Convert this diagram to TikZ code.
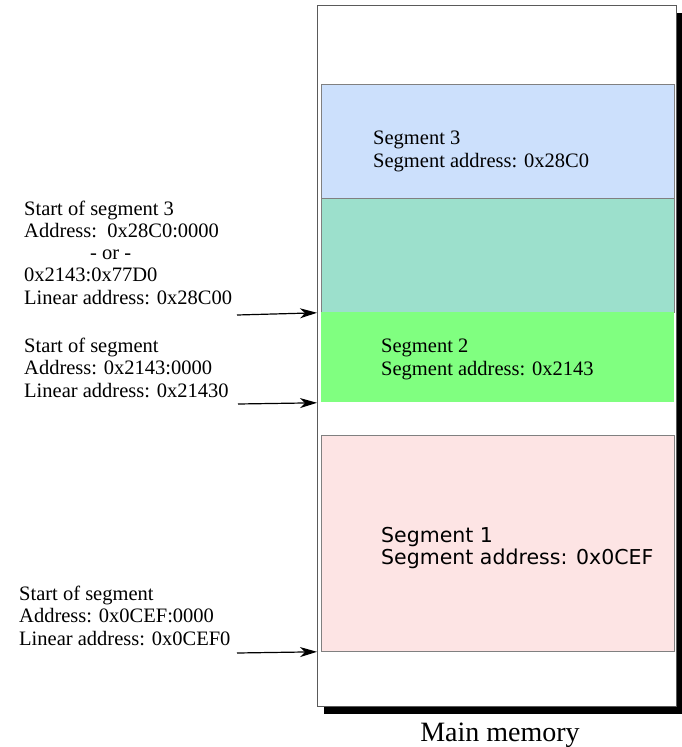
\documentclass[tikz,border=0pt]{standalone}
\usepackage{fontspec}
\setmainfont{Liberation Serif}
\newfontfamily\sansseg{DejaVu Sans}
\definecolor{segblue}{RGB}{204,224,252}
\definecolor{segteal}{RGB}{156,224,204}
\definecolor{seggreen}{RGB}{128,255,128}
\definecolor{segpink}{RGB}{253,228,228}
\definecolor{boxgray}{RGB}{90,90,90}
\usetikzlibrary{arrows.meta,positioning,shadows}

\tikzset{
  segbox/.style={draw=gray, line width=0.8pt, anchor=north west, inner sep=0pt, minimum width=353pt},
  addrtext/.style={anchor=base west, align=left, inner sep=0pt, font=\fontsize{20.5pt}{22.25pt}\selectfont},
  addrarrow/.style={-{Stealth[length=17pt,width=10pt,inset=5pt]}, line width=1.2pt}
}

\begin{document}
\begin{tikzpicture}[x=1pt,y=-1pt]
    \useasboundingbox (0,0) rectangle (682,747);

    % Main memory box
    \node[draw=boxgray, fill=white, line width=1pt, anchor=north west, inner sep=0pt,
          minimum width=359pt, minimum height=701pt,
          drop shadow={shadow xshift=6pt, shadow yshift=-7pt, opacity=1, fill=black}] (mem) at (317,5) {};
    \node[anchor=base, inner sep=0pt, font=\fontsize{28pt}{30pt}\selectfont] (memlabel) at (500,741) {Main memory};

    % Segments
    \node[segbox, fill=segblue, minimum height=114pt] (seg3) at (321,84) {};
    \node[segbox, fill=segteal, minimum height=114pt] (overlap) at (321,198) {};
    \node[segbox, draw=none, fill=seggreen, minimum height=90pt] (seg2) at (321,312) {};
    \node[segbox, fill=segpink, minimum height=216pt] (seg1) at (321,435) {};

    % (base = last line)
    \node[addrtext] (seg3text) at (373,167) {Segment 3\\Segment address: 0x28C0};
    \node[addrtext] (seg2text) at (381,375) {Segment 2\\Segment address: 0x2143};
    \node[addrtext, font=\sansseg\fontsize{20.5pt}{22pt}\selectfont] (seg1text) at (381,564) {Segment 1\\Segment address: 0x0CEF};

    % Start addresses
    \node[addrtext] (start3) at (24,304) {Start of segment 3\\Address:\ \ 0x28C0:0000\\\hspace*{66pt}- or -\\0x2143:0x77D0\\Linear address: 0x28C00};
    \node[addrtext] (start2) at (24,397) {Start of segment\\Address: 0x2143:0000\\Linear address: 0x21430};
    \node[addrtext] (start1) at (19,645) {Start of segment\\Address: 0x0CEF:0000\\Linear address: 0x0CEF0};

    % Arrows
    \coordinate (tail3) at (237,315);
    \coordinate (tail2) at (238,404);
    \coordinate (tail1) at (237,653);
    \draw[addrarrow] (tail3) -- (mem.west |- overlap.south);
    \draw[addrarrow] (tail2) -- (mem.west |- seg2.south);
    \draw[addrarrow] (tail1) -- (mem.west |- seg1.south);
\end{tikzpicture}
\end{document}
